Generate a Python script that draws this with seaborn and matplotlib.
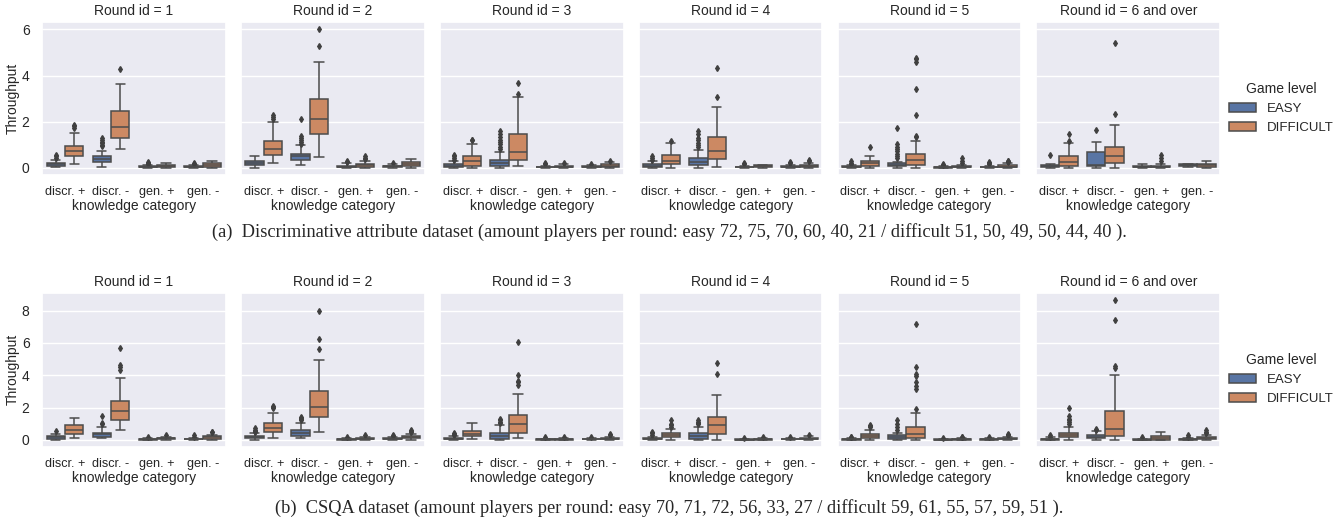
import matplotlib
matplotlib.use("Agg")
import matplotlib.pyplot as plt
import pandas as pd
import seaborn as sns

sns.set_theme(style="darkgrid")
plt.rcParams["font.family"] = ["Liberation Sans", "DejaVu Sans"]

rounds = ["1", "2", "3", "4", "5", "6 and over"]
categories = ["discr. +", "discr. -", "gen. +", "gen. -"]
levels = ["EASY", "DIFFICULT"]

caption_a = ("(a)  Discriminative attribute dataset (amount players per round: "
             "easy 72, 75, 70, 60, 40, 21 / difficult 51, 50, 49, 50, 44, 40 ).")
caption_b = ("(b)  CSQA dataset (amount players per round: "
             "easy 70, 71, 72, 56, 33, 27 / difficult 59, 61, 55, 57, 59, 51 ).")

# box summaries, one row per round, columns ordered
# discr.+ E, discr.+ D, discr.- E, discr.- D, gen.+ E, gen.+ D, gen.- E, gen.- D
a_lo = [[0.02, 0.17, 0.03, 0.82, 0, 0, 0, 0],
        [0.01, 0.20, 0.14, 0.46, 0, 0, 0, 0],
        [0, 0, 0, 0.10, 0, 0, 0, 0],
        [0, 0, 0, 0.04, 0, 0, 0, 0],
        [0, 0, 0, 0, 0, 0, 0, 0],
        [0, 0, 0, 0, 0, 0, 0.05, 0]]
a_q1 = [[0.10, 0.50, 0.24, 1.30, 0.02, 0.05, 0.03, 0.06],
        [0.12, 0.58, 0.33, 1.47, 0.03, 0.06, 0.04, 0.10],
        [0.05, 0.10, 0.07, 0.33, 0.02, 0.03, 0.03, 0.05],
        [0.05, 0.16, 0.12, 0.39, 0.02, 0.04, 0.03, 0.05],
        [0.02, 0.10, 0.07, 0.12, 0.01, 0.02, 0.02, 0.03],
        [0.04, 0.10, 0.07, 0.22, 0.03, 0.03, 0.08, 0.06]]
a_med = [[0.15, 0.72, 0.39, 1.76, 0.04, 0.08, 0.05, 0.14],
         [0.20, 0.83, 0.50, 2.13, 0.06, 0.12, 0.07, 0.17],
         [0.10, 0.32, 0.20, 0.69, 0.04, 0.05, 0.05, 0.10],
         [0.10, 0.30, 0.27, 0.75, 0.03, 0.08, 0.05, 0.09],
         [0.04, 0.20, 0.13, 0.36, 0.02, 0.04, 0.04, 0.06],
         [0.07, 0.24, 0.12, 0.50, 0.06, 0.06, 0.12, 0.11]]
a_q3 = [[0.21, 0.94, 0.50, 2.45, 0.07, 0.12, 0.08, 0.20],
        [0.29, 1.15, 0.60, 2.98, 0.10, 0.18, 0.10, 0.25],
        [0.15, 0.53, 0.36, 1.48, 0.06, 0.08, 0.08, 0.15],
        [0.15, 0.56, 0.42, 1.34, 0.05, 0.12, 0.08, 0.14],
        [0.07, 0.30, 0.20, 0.60, 0.04, 0.08, 0.06, 0.11],
        [0.11, 0.50, 0.68, 0.92, 0.10, 0.10, 0.15, 0.17]]
a_hi = [[0.36, 1.51, 0.72, 3.63, 0.13, 0.22, 0.13, 0.30],
        [0.50, 1.97, 0.98, 4.58, 0.20, 0.32, 0.18, 0.38],
        [0.29, 1.05, 0.69, 3.09, 0.10, 0.15, 0.12, 0.25],
        [0.29, 1.10, 0.79, 2.62, 0.09, 0.14, 0.12, 0.22],
        [0.12, 0.53, 0.27, 1.17, 0.07, 0.12, 0.10, 0.20],
        [0.17, 1.08, 1.12, 1.87, 0.18, 0.18, 0.15, 0.30]]
a_out = [[[0.45, 0.5, 0.55], [1.72, 1.8, 1.87], [0.94, 1.0, 1.06, 1.12, 1.2, 1.3], [4.29],
          [0.17, 0.22, 0.26], [], [0.17, 0.2], []],
         [[], [2.12, 2.2, 2.3], [1.05, 1.12, 1.2, 1.3, 1.37, 2.1], [5.27, 6.02],
          [0.25, 0.3], [0.4, 0.45, 0.5], [0.22], []],
         [[0.35, 0.42, 0.5, 0.58], [1.19, 1.22], [0.82, 0.92, 1.02, 1.12, 1.22, 1.32, 1.45, 1.62], [3.22, 3.67],
          [0.15, 0.2], [0.2], [0.18], [0.32]],
         [[0.36, 0.45, 0.5], [1.18], [0.9, 1.0, 1.1, 1.2, 1.3, 1.45, 1.62], [3.09, 4.32],
          [0.15, 0.22], [], [0.2, 0.24], [0.3, 0.35]],
         [[0.17, 0.22, 0.28], [0.89], [0.42, 0.5, 0.6, 0.72, 0.82, 0.92, 1.05, 1.73],
          [1.35, 1.4, 2.27, 3.41, 4.6, 4.7, 4.78],
          [0.12, 0.17], [0.2, 0.3, 0.42], [0.15, 0.2, 0.24], [0.24, 0.28, 0.32]],
         [[0.55], [1.15, 1.47], [1.63], [2.35, 5.4],
          [], [0.3, 0.42, 0.55], [], []]]

b_lo = [[0.02, 0.10, 0.10, 0.62, 0, 0, 0, 0],
        [0.02, 0.10, 0.10, 0.47, 0, 0, 0, 0],
        [0, 0.05, 0, 0.10, 0, 0, 0, 0],
        [0, 0.02, 0.02, 0.02, 0, 0, 0, 0],
        [0, 0, 0, 0, 0, 0, 0, 0],
        [0, 0, 0, 0, 0, 0, 0, 0]]
b_q1 = [[0.08, 0.35, 0.20, 1.24, 0.02, 0.05, 0.03, 0.07],
        [0.10, 0.49, 0.25, 1.44, 0.02, 0.05, 0.04, 0.10],
        [0.05, 0.21, 0.06, 0.41, 0.01, 0.02, 0.03, 0.05],
        [0.03, 0.16, 0.08, 0.39, 0.01, 0.02, 0.03, 0.05],
        [0.02, 0.10, 0.08, 0.10, 0.01, 0.02, 0.02, 0.03],
        [0.02, 0.16, 0.10, 0.25, 0.01, 0.02, 0.02, 0.06]]
b_med = [[0.15, 0.62, 0.37, 1.81, 0.04, 0.09, 0.05, 0.15],
         [0.18, 0.76, 0.45, 2.02, 0.04, 0.08, 0.07, 0.18],
         [0.08, 0.37, 0.21, 0.97, 0.03, 0.05, 0.05, 0.08],
         [0.06, 0.29, 0.25, 0.89, 0.02, 0.04, 0.05, 0.08],
         [0.04, 0.21, 0.16, 0.37, 0.02, 0.04, 0.04, 0.07],
         [0.05, 0.31, 0.20, 0.68, 0.02, 0.10, 0.04, 0.12]]
b_q3 = [[0.25, 0.89, 0.45, 2.43, 0.07, 0.13, 0.08, 0.22],
        [0.25, 1.03, 0.62, 2.99, 0.07, 0.12, 0.10, 0.25],
        [0.12, 0.56, 0.45, 1.55, 0.05, 0.08, 0.08, 0.12],
        [0.10, 0.41, 0.43, 1.44, 0.04, 0.06, 0.08, 0.12],
        [0.07, 0.37, 0.29, 0.82, 0.04, 0.06, 0.06, 0.12],
        [0.08, 0.45, 0.30, 1.79, 0.04, 0.22, 0.06, 0.20]]
b_hi = [[0.36, 1.34, 0.80, 3.81, 0.12, 0.20, 0.12, 0.30],
        [0.42, 1.69, 1.07, 4.95, 0.12, 0.20, 0.15, 0.38],
        [0.22, 1.07, 0.93, 2.85, 0.08, 0.12, 0.12, 0.20],
        [0.20, 0.66, 0.78, 2.78, 0.07, 0.10, 0.12, 0.22],
        [0.12, 0.62, 0.41, 1.65, 0.07, 0.10, 0.10, 0.20],
        [0.15, 0.82, 0.52, 4.02, 0.08, 0.50, 0.10, 0.30]]
b_out = [[[0.52], [], [0.95, 1.03, 1.5], [4.31, 4.5, 4.64, 5.67],
          [0.18], [0.28], [0.2, 0.28], [0.46, 0.48]],
         [[0.5, 0.56, 0.62, 0.72], [1.98, 2.05, 2.12], [1.2, 1.28, 1.35, 1.4], [5.63, 6.23, 8.0],
          [0.2], [0.3], [0.22, 0.28], [0.5, 0.55, 0.62]],
         [[0.3, 0.38, 0.45], [], [1.05, 1.12, 1.2, 1.28], [3.4, 3.55, 3.65, 4.02, 6.08],
          [0.15], [0.2], [0.2], [0.3, 0.38]],
         [[0.3, 0.4, 0.5], [0.8, 0.9, 1.0, 1.25], [0.98, 1.05, 1.12, 1.2], [4.06, 4.74],
          [0.12], [0.15], [0.18], [0.3]],
         [[0.16, 0.2], [0.8, 0.85, 0.9], [0.62, 0.8, 1.0, 1.2],
          [1.92, 3.13, 3.3, 3.55, 3.96, 4.08, 4.5, 7.18],
          [0.12], [0.15, 0.2], [0.15], [0.27, 0.32, 0.38]],
         [[0.2, 0.28], [0.95, 1.1, 1.2, 1.3, 1.5, 1.96], [0.62, 0.66], [4.43, 4.54, 7.42, 8.66],
          [0.15], [], [0.2, 0.28], [0.42, 0.5, 0.6]]]


def box_sample(lo, q1, med, q3, hi, outs):
    # 4m+1 values whose quartiles / 1.5 IQR whiskers give back the summary
    m = len(outs) + 1
    return [lo] * m + [q1] * m + [med] * m + [q3] + [hi] + list(outs)


def build_frame(lo, q1, med, q3, hi, out):
    rows = []
    for r, rnd in enumerate(rounds):
        for j in range(8):
            cat = categories[j // 2]
            lvl = levels[j % 2]
            for v in box_sample(lo[r][j], q1[r][j], med[r][j], q3[r][j], hi[r][j], out[r][j]):
                rows.append({"Round": rnd, "category": cat, "level": lvl, "Throughput": v})
    return pd.DataFrame(rows)


df_a = build_frame(a_lo, a_q1, a_med, a_q3, a_hi, a_out)
df_b = build_frame(b_lo, b_q1, b_med, b_q3, b_hi, b_out)

fig = plt.figure(figsize=(13.38, 5.22), dpi=100)
flier_style = {"marker": "d", "markerfacecolor": "0.25", "markeredgecolor": "0.25"}


def draw_row(df, bottom, top, caption_y, caption, legend_y):
    gs = fig.add_gridspec(1, 6, left=0.0314, right=0.912, bottom=bottom, top=top, wspace=0.082)
    axes = gs.subplots(sharey=True)
    for i, (ax, rnd) in enumerate(zip(axes, rounds)):
        sub = df[df["Round"] == rnd]
        sns.boxplot(data=sub, x="category", y="Throughput", hue="level",
                    order=categories, hue_order=levels, ax=ax,
                    fliersize=3, flierprops=flier_style, linewidth=1.1,
                    legend=(i == 5))
        ax.set_title(f"Round id = {rnd}", fontsize=10, pad=5)
        ax.set_xlabel("knowledge category", fontsize=10, labelpad=1)
        ax.set_ylabel("Throughput" if i == 0 else "", fontsize=10, labelpad=1)
        ax.tick_params(axis="x", labelsize=9.1, pad=2)
        ax.tick_params(axis="y", labelsize=10, pad=3)
    handles, labels = axes[5].get_legend_handles_labels()
    axes[5].get_legend().remove()
    fig.legend(handles, labels, title="Game level", loc="center left",
               bbox_to_anchor=(0.910, legend_y), frameon=False,
               fontsize=9.5, title_fontsize=10)
    fig.text(0.5, caption_y, caption, ha="center", va="center",
             family=["Liberation Serif", "DejaVu Serif"], fontsize=13.2)


draw_row(df_a, 0.665, 0.958, 1 - 232 / 522, caption_a, 0.793)
draw_row(df_b, 0.144, 0.439, 1 - 508 / 522, caption_b, 0.274)

fig.savefig("out.png", dpi=100)
